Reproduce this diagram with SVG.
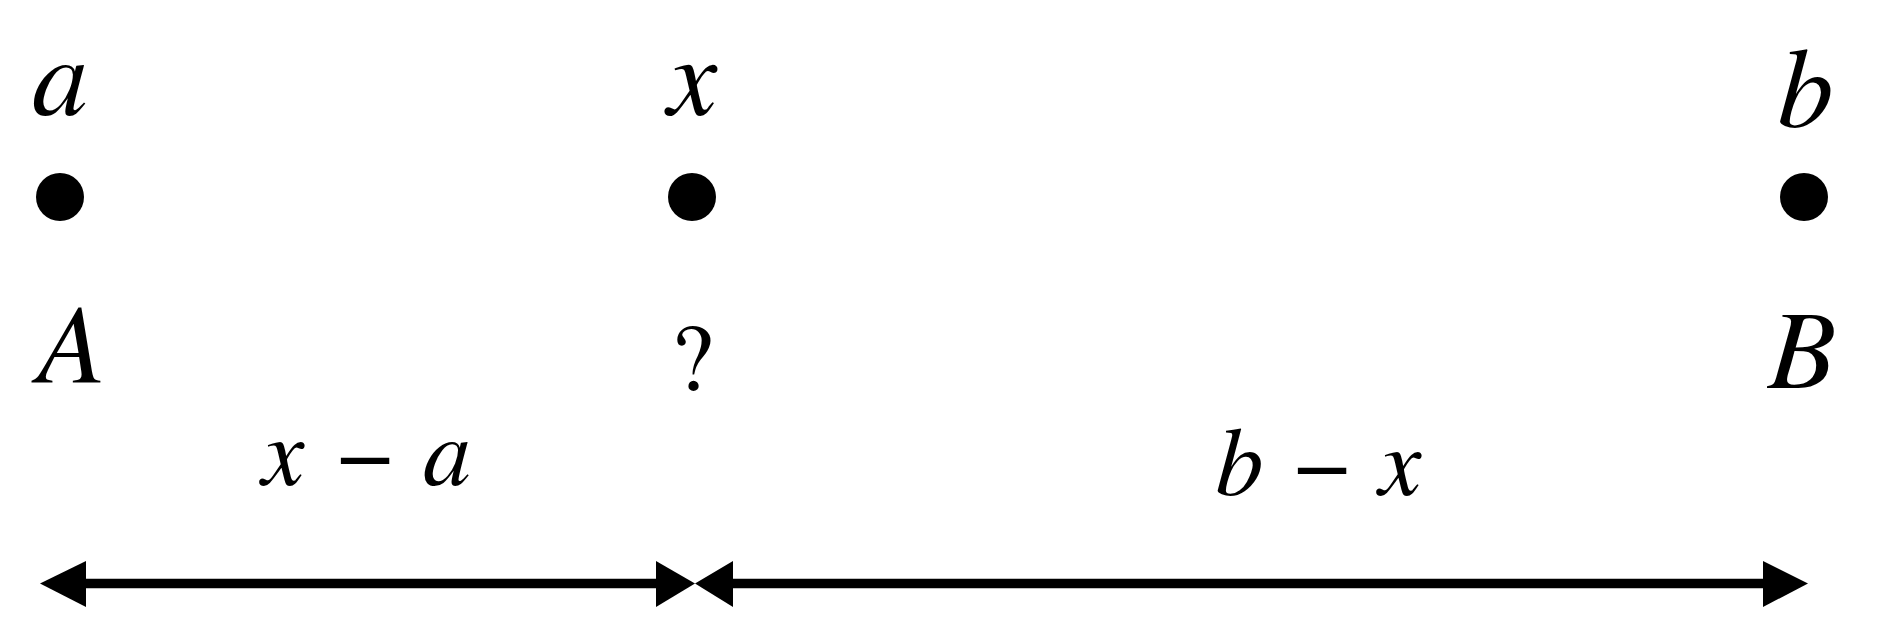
<svg xmlns="http://www.w3.org/2000/svg" width="1882" height="638" viewBox="0 0 1882 638">
<style>
  .it { font-family: FreeSerif, "Liberation Serif", serif; font-style: italic; fill: #000; }
  .rm { font-family: FreeSerif, "Liberation Serif", serif; font-style: normal; fill: #000; }
  .big { font-size: 112px; }
  .mid { font-size: 96px; }
  .dot { fill: #000; }
  .shaft { stroke: #000; stroke-width: 9.6; fill: none; }
  .head { fill: #000; }
</style>
<rect width="1882" height="638" fill="#fff"/>
<g id="node-a">
  <text class="it big" x="60" y="115" text-anchor="middle">a</text>
  <circle class="dot" cx="60" cy="197" r="24"/>
  <text class="it big" x="68" y="382" text-anchor="middle">A</text>
</g>
<g id="node-x">
  <text class="it big" x="692" y="115" text-anchor="middle">x</text>
  <circle class="dot" cx="692" cy="197" r="24"/>
  <text class="rm" font-size="96" x="692" y="390" text-anchor="middle">?</text>
</g>
<g id="node-b">
  <text class="it big" x="1804" y="127" text-anchor="middle">b</text>
  <circle class="dot" cx="1804" cy="197" r="24"/>
  <text class="it big" x="1800" y="388" text-anchor="middle">B</text>
</g>
<g id="label-x-minus-a">
  <text class="mid" y="485" text-anchor="middle"><tspan class="it" x="283">x</tspan><tspan class="rm" x="365">−</tspan><tspan class="it" x="447">a</tspan></text>
</g>
<g id="label-b-minus-x">
  <text class="mid" y="495" text-anchor="middle"><tspan class="it" x="1238">b</tspan><tspan class="rm" x="1322">−</tspan><tspan class="it" x="1400">x</tspan></text>
</g>
<g id="connectors">
  <g id="arrow-left">
    <line class="shaft" x1="85" y1="583.5" x2="657" y2="583.5"/>
    <polygon class="head" points="40,583.5 86,561 86,607"/>
    <polygon class="head" points="695,583.5 656,561 656,607"/>
  </g>
  <g id="arrow-right">
    <line class="shaft" x1="732" y1="583.5" x2="1764" y2="583.5"/>
    <polygon class="head" points="695,583.5 733,561 733,607"/>
    <polygon class="head" points="1808,583.5 1763,561 1763,607"/>
  </g>
</g>
</svg>
